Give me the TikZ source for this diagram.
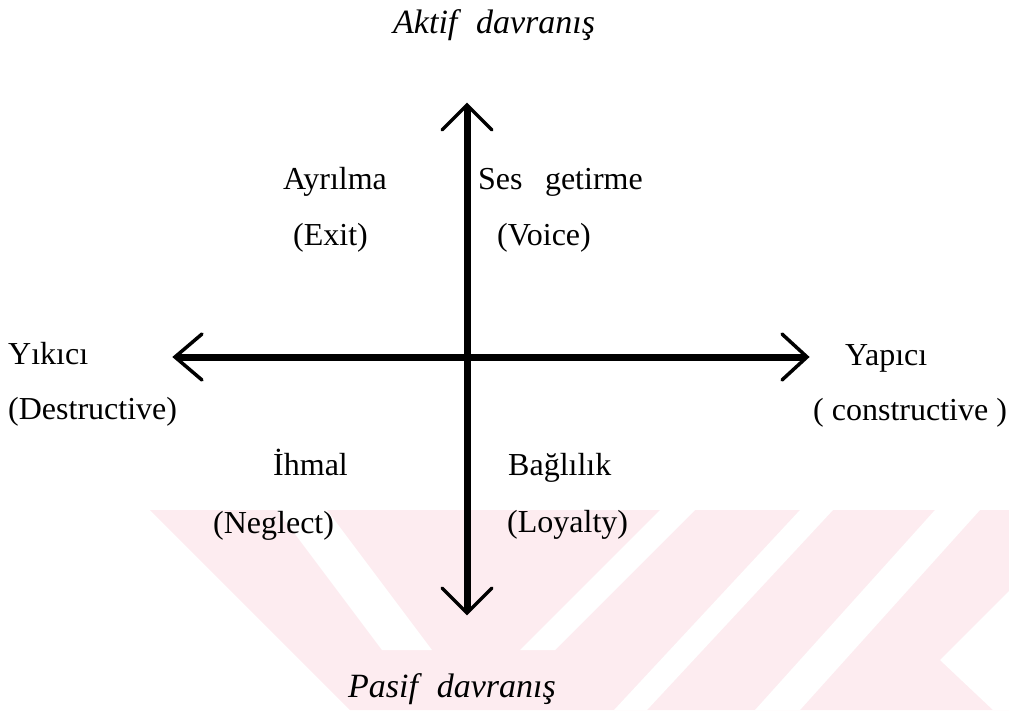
\documentclass[tikz,border=0pt]{standalone}
\usepackage{fontspec}
\setmainfont{Liberation Serif}
\usetikzlibrary{calc}
\definecolor{wmpink}{RGB}{253,236,240}
\begin{document}
\begin{tikzpicture}[x=1pt,y=-1pt,
  lbl/.style={anchor=base west, inner sep=0pt, font=\fontsize{32}{38}\selectfont},
  pole/.style={anchor=base west, inner sep=0pt, font=\fontsize{34}{40}\selectfont\itshape},
  shaft/.style={line width=7pt, shorten <=2pt, shorten >=2pt},
  barb/.style={line width=3.5pt, line join=miter, line cap=round}]
\useasboundingbox (0,0) rectangle (1009,710);

% pale chevron pattern in the lower part of the sheet
\fill[wmpink] (150,510) -- (1009,510) -- (1009,710) -- (350,710) -- cycle;
\fill[white] (277,510) -- (327,510) -- (432,650) -- (382,650) -- cycle;
\fill[white] (660,510) -- (695,510) -- (555,650) -- (520,650) -- cycle;
\fill[white] (800,510) -- (833,510) -- (647,710) -- (614,710) -- cycle;
\fill[white] (935,510) -- (980,510) -- (800,710) -- (755,710) -- cycle;
\fill[white] (940,660) -- (1009,591) -- (1009,710) -- (993,710) -- cycle;

% axis end points
\coordinate (N) at (467,105);
\coordinate (S) at (467,613);
\coordinate (W) at (175,357);
\coordinate (E) at (807,357);

% axes
\draw[shaft] (W) -- (E);
\draw[shaft] (N) -- (S);

% open arrow heads
\draw[barb] ($(N)+(-25,25)$) -- (N) -- ($(N)+(25,25)$);
\draw[barb] ($(S)+(-25,-25)$) -- (S) -- ($(S)+(25,-25)$);
\draw[barb] ($(W)+(27,-23)$) -- (W) -- ($(W)+(27,23)$);
\draw[barb] ($(E)+(-25,-23)$) -- (E) -- ($(E)+(-25,23)$);

% pole labels
\node[pole] (aktif) at (393,33) {Aktif\hspace{0.55em}davranış};
\node[pole] (pasif) at (348,697) {Pasif\hspace{0.55em}davranış};
\node[lbl] (yikici) at (8,364) {Yıkıcı};
\node[lbl] (destr) at (8,419) {(Destructive)};
\node[lbl] (yapici) at (845,365) {Yapıcı};
\node[lbl] (constr) at (813,420) {( constructive )};

% quadrant labels
\node[lbl] (ayrilma) at (283,189) {Ayrılma};
\node[lbl] (exit) at (293,245) {(Exit)};
\node[lbl] (ses) at (478,189) {Ses\hspace{0.7em}getirme};
\node[lbl] (voice) at (497,245) {(Voice)};
\node[lbl] (ihmal) at (273,475) {İhmal};
\node[lbl] (neglect) at (213,533) {(Neglect)};
\node[lbl] (baglilik) at (508,475) {Bağlılık};
\node[lbl] (loyalty) at (507,532) {(Loyalty)};
\end{tikzpicture}
\end{document}
